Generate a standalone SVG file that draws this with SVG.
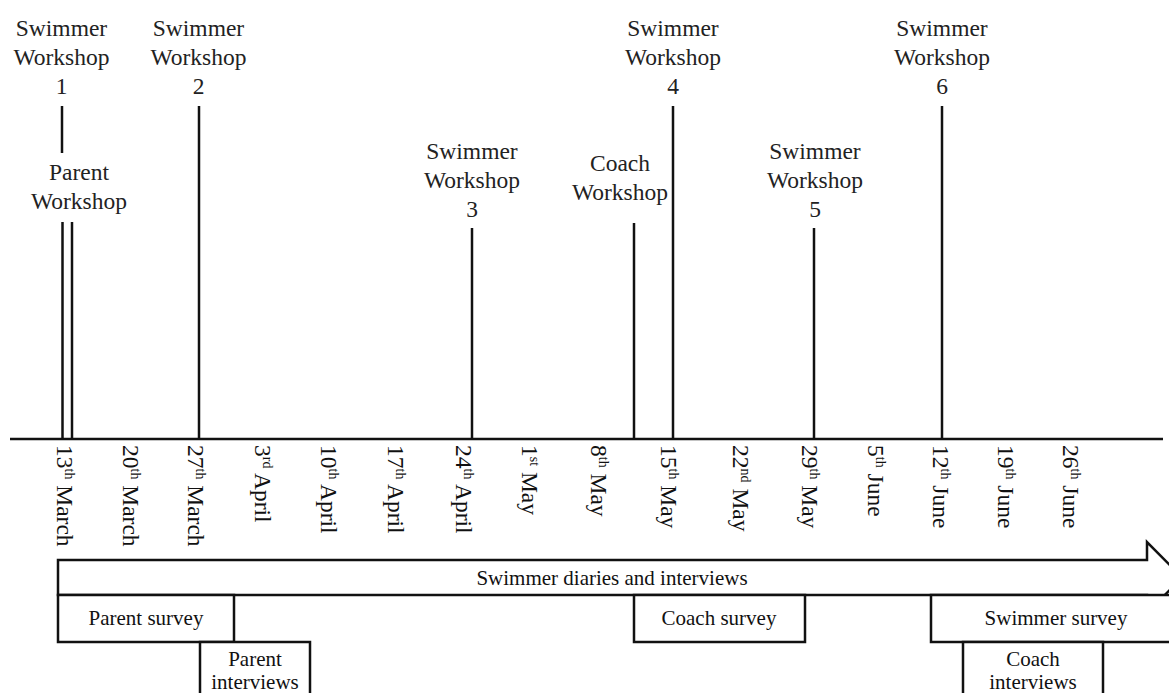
<svg xmlns="http://www.w3.org/2000/svg" width="1169" height="693" viewBox="0 0 1169 693">
  <style>
    .lbl { font-family: "Liberation Serif", "Times New Roman", serif; font-size: 23.5px; fill: #222; text-anchor: middle; }
    .tick { font-family: "Liberation Serif", "Times New Roman", serif; font-size: 23.5px; fill: #111; }
    .sup { font-size: 14px; }
    .box { fill: #fff; stroke: #111; stroke-width: 2.5; }
    .btxt { font-family: "Liberation Serif", "Times New Roman", serif; font-size: 21px; fill: #111; text-anchor: middle; }
    .mark { stroke: #111; stroke-width: 2.5; fill: none; }
  </style>
  <rect width="1169" height="693" fill="#fff"/>

  <!-- timeline axis and event markers -->
  <g id="connectors" class="mark">
    <line x1="10" y1="439" x2="1163" y2="439"/>
    <line x1="62" y1="106" x2="62" y2="153"/>
    <line x1="62.5" y1="222" x2="62.5" y2="439"/>
    <line x1="72" y1="222" x2="72" y2="439"/>
    <line x1="199" y1="106" x2="199" y2="439"/>
    <line x1="472" y1="228" x2="472" y2="439"/>
    <line x1="634" y1="223" x2="634" y2="439"/>
    <line x1="673" y1="106" x2="673" y2="439"/>
    <line x1="814" y1="228" x2="814" y2="439"/>
    <line x1="942" y1="106" x2="942" y2="439"/>
  </g>

  <!-- workshop labels -->
  <g id="swimmer-workshop-1" class="lbl">
    <text x="61.5" y="36">Swimmer</text>
    <text x="61.5" y="65">Workshop</text>
    <text x="61.5" y="94">1</text>
  </g>
  <g id="swimmer-workshop-2" class="lbl">
    <text x="198.5" y="36">Swimmer</text>
    <text x="198.5" y="65">Workshop</text>
    <text x="198.5" y="94">2</text>
  </g>
  <g id="parent-workshop" class="lbl">
    <text x="79" y="180">Parent</text>
    <text x="79" y="209">Workshop</text>
  </g>
  <g id="swimmer-workshop-3" class="lbl">
    <text x="472" y="159">Swimmer</text>
    <text x="472" y="188">Workshop</text>
    <text x="472" y="217">3</text>
  </g>
  <g id="coach-workshop" class="lbl">
    <text x="620" y="171">Coach</text>
    <text x="620" y="200">Workshop</text>
  </g>
  <g id="swimmer-workshop-4" class="lbl">
    <text x="673" y="36">Swimmer</text>
    <text x="673" y="65">Workshop</text>
    <text x="673" y="94">4</text>
  </g>
  <g id="swimmer-workshop-5" class="lbl">
    <text x="815" y="159">Swimmer</text>
    <text x="815" y="188">Workshop</text>
    <text x="815" y="217">5</text>
  </g>
  <g id="swimmer-workshop-6" class="lbl">
    <text x="942" y="36">Swimmer</text>
    <text x="942" y="65">Workshop</text>
    <text x="942" y="94">6</text>
  </g>

  <!-- weekly dates, rotated -->
  <g id="dates" class="tick">
    <text transform="translate(57,445) rotate(90)">13<tspan class="sup" dy="-8">th</tspan><tspan dy="8"> March</tspan></text>
    <text transform="translate(123,445) rotate(90)">20<tspan class="sup" dy="-8">th</tspan><tspan dy="8"> March</tspan></text>
    <text transform="translate(188,445) rotate(90)">27<tspan class="sup" dy="-8">th</tspan><tspan dy="8"> March</tspan></text>
    <text transform="translate(255,445) rotate(90)">3<tspan class="sup" dy="-8">rd</tspan><tspan dy="8"> April</tspan></text>
    <text transform="translate(321,445) rotate(90)">10<tspan class="sup" dy="-8">th</tspan><tspan dy="8"> April</tspan></text>
    <text transform="translate(388,445) rotate(90)">17<tspan class="sup" dy="-8">th</tspan><tspan dy="8"> April</tspan></text>
    <text transform="translate(456,445) rotate(90)">24<tspan class="sup" dy="-8">th</tspan><tspan dy="8"> April</tspan></text>
    <text transform="translate(522,445) rotate(90)">1<tspan class="sup" dy="-8">st</tspan><tspan dy="8"> May</tspan></text>
    <text transform="translate(591,445) rotate(90)">8<tspan class="sup" dy="-8">th</tspan><tspan dy="8">  May</tspan></text>
    <text transform="translate(661,445) rotate(90)">15<tspan class="sup" dy="-8">th</tspan><tspan dy="8"> May</tspan></text>
    <text transform="translate(733,445) rotate(90)">22<tspan class="sup" dy="-8">nd</tspan><tspan dy="8">  May</tspan></text>
    <text transform="translate(802,445) rotate(90)">29<tspan class="sup" dy="-8">th</tspan><tspan dy="8"> May</tspan></text>
    <text transform="translate(868,445) rotate(90)">5<tspan class="sup" dy="-8">th</tspan><tspan dy="8"> June</tspan></text>
    <text transform="translate(933,445) rotate(90)">12<tspan class="sup" dy="-8">th</tspan><tspan dy="8"> June</tspan></text>
    <text transform="translate(998,445) rotate(90)">19<tspan class="sup" dy="-8">th</tspan><tspan dy="8"> June</tspan></text>
    <text transform="translate(1063,445) rotate(90)">26<tspan class="sup" dy="-8">th</tspan><tspan dy="8"> June</tspan></text>
  </g>

  <!-- data collection periods -->
  <g id="swimmer-diaries">
    <path class="box" d="M58,560 H1147 V542 L1182,577.5 L1147,613 V595 H58 Z"/>
    <text class="btxt" x="612" y="585">Swimmer diaries and interviews</text>
  </g>
  <g id="parent-survey">
    <rect class="box" x="58" y="595" width="176" height="47"/>
    <text class="btxt" x="146" y="625">Parent survey</text>
  </g>
  <g id="parent-interviews">
    <rect class="box" x="200" y="642" width="110" height="60"/>
    <text class="btxt" x="255" y="666">Parent</text>
    <text class="btxt" x="255" y="689">interviews</text>
  </g>
  <g id="coach-survey">
    <rect class="box" x="634" y="595" width="171" height="47"/>
    <text class="btxt" x="719" y="625">Coach survey</text>
  </g>
  <g id="swimmer-survey">
    <rect class="box" x="931" y="595" width="250" height="47"/>
    <text class="btxt" x="1056" y="625">Swimmer survey</text>
  </g>
  <g id="coach-interviews">
    <rect class="box" x="963" y="642" width="140" height="60"/>
    <text class="btxt" x="1033" y="666">Coach</text>
    <text class="btxt" x="1033" y="689">interviews</text>
  </g>
</svg>
